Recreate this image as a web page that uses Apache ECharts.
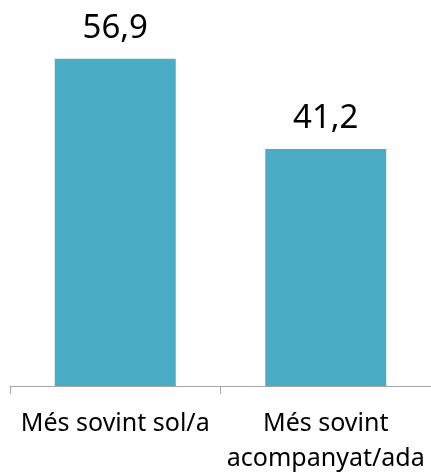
<!DOCTYPE html>
<html><head><meta charset="utf-8">
<script src="https://cdn.jsdelivr.net/npm/echarts@6/dist/echarts.min.js"></script>
<style>html,body{margin:0;padding:0;background:#fff}#c{width:431px;height:476px}</style>
</head><body><div id="c"></div>
<script>
const categories = ['Més sovint sol/a', 'Més sovint\nacompanyat/ada'];
const values = [56.9, 41.2];

const chart = echarts.init(document.getElementById('c'), null, {renderer: 'canvas'});
chart.setOption({
  animation: false,
  grid: {left: 10, right: 0, top: 41, bottom: 88, containLabel: false},
  xAxis: {
    type: 'category',
    data: categories,
    axisLine: {lineStyle: {color: '#A6A6A6', width: 1}},
    axisTick: {show: true, length: 8, lineStyle: {color: '#A6A6A6'}},
    axisLabel: {fontFamily: 'Noto Sans', fontSize: 25, color: '#000', margin: 20, lineHeight: 35, interval: 0}
  },
  yAxis: {type: 'value', min: 0, max: 60, show: false, splitLine: {show: false}},
  series: [{
    type: 'bar',
    data: values,
    barWidth: 121,
    itemStyle: {color: '#4BACC6'},
    label: {
      show: true, position: 'top', distance: 14,
      fontFamily: 'Noto Sans', fontSize: 33, color: '#000',
      formatter: p => String(p.value).replace('.', ',')
    }
  }]
});
</script></body></html>
